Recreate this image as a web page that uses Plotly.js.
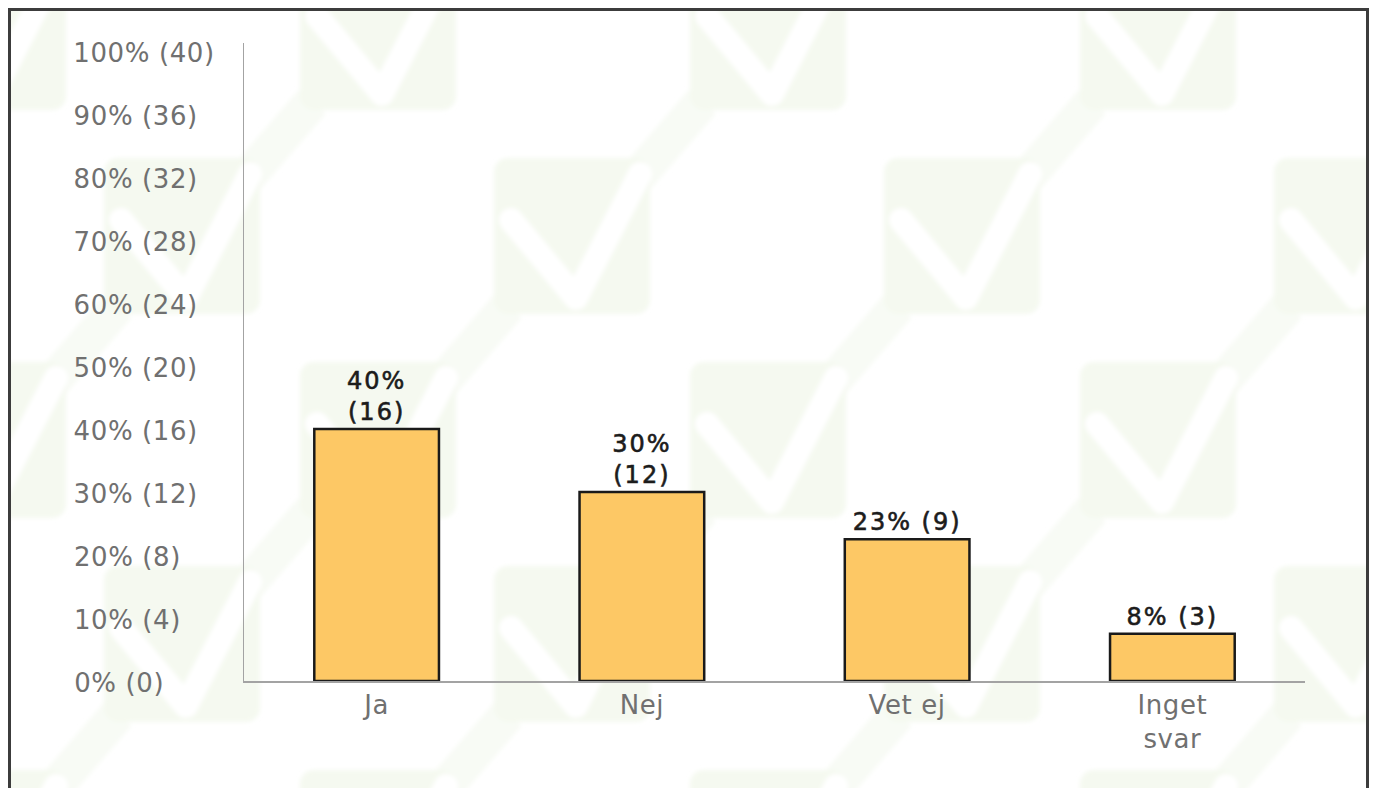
<!DOCTYPE html>
<html>
<head>
<meta charset="utf-8">
<script src="https://cdn.plot.ly/plotly-3.0.1.min.js"></script>
<style>
  html, body { margin: 0; padding: 0; background: #ffffff; }
  #wrap { position: relative; width: 1375px; height: 788px; overflow: hidden; background: #ffffff; }
  #bg { position: absolute; left: 0; top: 0; }
  #chart { position: absolute; left: 0; top: 0; width: 1375px; height: 788px; }
  #chart text.bartext { letter-spacing: 2px; stroke: #1c1c1c; stroke-width: 0.6px; }
  #chart .annotation-text, #chart .xtick text { letter-spacing: 0.6px; }
</style>
</head>
<body>
<div id="wrap">
  <svg id="bg" width="1375" height="788" xmlns="http://www.w3.org/2000/svg">
    <defs>
      <clipPath id="inner"><rect x="10" y="10" width="1357" height="800"></rect></clipPath>
      <filter id="soft" x="-5%" y="-5%" width="110%" height="110%"><feGaussianBlur stdDeviation="2"></feGaussianBlur></filter>
    </defs>
    <g clip-path="url(#inner)"><g id="pattern" filter="url(#soft)"></g></g>
    <rect x="9.5" y="9.5" width="1358" height="900" fill="none" stroke="#3c3c3c" stroke-width="3"></rect>
  </svg>
  <div id="chart"></div>
</div>
<script>
// ---- data ----
const categories = ['Ja', 'Nej', 'Vet ej', 'Inget svar'];
const categoryLabels = ['Ja', 'Nej', 'Vet ej', 'Inget<br>svar'];
const counts = [16, 12, 9, 3];
const barLabels = ['40%<br>(16)', '30%<br>(12)', '23% (9)', '8% (3)'];
const yTickValues = [0, 4, 8, 12, 16, 20, 24, 28, 32, 36, 40];
const yTickLabels = ['0% (0)', '10% (4)', '20% (8)', '30% (12)', '40% (16)', '50% (20)',
                     '60% (24)', '70% (28)', '80% (32)', '90% (36)', '100% (40)'];

// ---- decorative watermark background (checkmark tiles) ----
(function () {
  const g = document.getElementById('pattern');
  const NS = 'http://www.w3.org/2000/svg';
  const S = 156;
  const bands = [], tiles = [];
  for (let k = 0; k < 5; k++) {
    const y = -46 + 204 * k;
    const x0 = (k % 2 === 1) ? 104 : 300;
    for (let j = -1; j < 4; j++) {
      const x = x0 + 390 * j;
      const band = document.createElementNS(NS, 'line');
      band.setAttribute('x1', x + 132); band.setAttribute('y1', y + 32);
      band.setAttribute('x2', x + 208); band.setAttribute('y2', y - 56);
      band.setAttribute('stroke', '#f8fbf5'); band.setAttribute('stroke-width', '36');
      bands.push(band);
      const r = document.createElementNS(NS, 'rect');
      r.setAttribute('x', x); r.setAttribute('y', y);
      r.setAttribute('width', S); r.setAttribute('height', S);
      r.setAttribute('rx', 14); r.setAttribute('fill', '#f5f9f0');
      const c = document.createElementNS(NS, 'polyline');
      c.setAttribute('points', (x + 17) + ',' + (y + 62) + ' ' + (x + 82) + ',' + (y + 140) + ' ' + (x + 146) + ',' + (y + 16));
      c.setAttribute('fill', 'none'); c.setAttribute('stroke', '#ffffff');
      c.setAttribute('stroke-width', '24'); c.setAttribute('stroke-linecap', 'round');
      c.setAttribute('stroke-linejoin', 'round');
      tiles.push(r, c);
    }
  }
  bands.forEach(e => g.appendChild(e));
  tiles.forEach(e => g.appendChild(e));
})();

// ---- chart ----
const axisGray = '#a3a3a3';
const labelGray = '#707070';
const fontFam = 'DejaVu Sans, Verdana, sans-serif';

const trace = {
  type: 'bar',
  x: categories,
  y: counts,
  width: 0.47,
  text: barLabels,
  textposition: 'outside',
  texttemplate: '%{text}',
  cliponaxis: false,
  constraintext: 'none',
  textfont: { family: fontFam, size: 24, color: '#1c1c1c' },
  marker: { color: '#fdc865', line: { color: '#1a1a1a', width: 2.5 } },
  hoverinfo: 'skip'
};

const plotLeft = 244, plotRight = 1305;
const annX = (74 - plotLeft) / (plotRight - plotLeft);
const annotations = yTickValues.map((v, i) => ({
  xref: 'paper', yref: 'y', x: annX, y: v,
  xanchor: 'left', yanchor: 'middle', showarrow: false,
  text: yTickLabels[i], yshift: -2,
  font: { family: fontFam, size: 26, color: labelGray }
}));

const layout = {
  width: 1375, height: 788,
  margin: { l: plotLeft, r: 1375 - plotRight, t: 43, b: 107, pad: 0 },
  paper_bgcolor: 'rgba(0,0,0,0)',
  plot_bgcolor: 'rgba(0,0,0,0)',
  showlegend: false,
  xaxis: {
    type: 'category',
    tickmode: 'array', tickvals: categories, ticktext: categoryLabels,
    showline: true, linecolor: axisGray, linewidth: 1.5,
    showgrid: false, zeroline: false, ticks: '',
    tickfont: { family: fontFam, size: 26, color: labelGray },
    fixedrange: true
  },
  yaxis: {
    range: [0, 40.5],
    showline: true, linecolor: axisGray, linewidth: 1.5,
    showgrid: false, zeroline: false, ticks: '', showticklabels: false,
    fixedrange: true
  },
  annotations: annotations
};

Plotly.newPlot('chart', [trace], layout, { displayModeBar: false, staticPlot: true });
</script>
</body>
</html>
